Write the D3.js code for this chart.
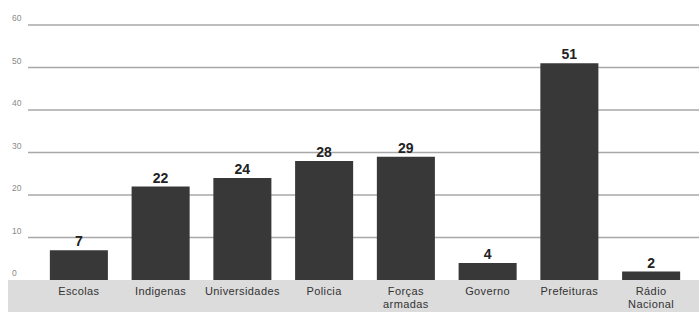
<!DOCTYPE html>
<html><head><meta charset="utf-8">
<script src="https://cdn.jsdelivr.net/npm/d3@7"></script>
<style>body{margin:0;background:#fff}svg{display:block}</style>
</head><body>
<script>
const categories = ["Escolas", "Indígenas", "Universidades", "Polícia", "Forças armadas", "Governo", "Prefeituras", "Rádio Nacional"];
const labelLines = [["Escolas"], ["Indigenas"], ["Universidades"], ["Policia"], ["Forças", "armadas"], ["Governo"], ["Prefeituras"], ["Rádio", "Nacional"]];
const values = [7, 22, 24, 28, 29, 4, 51, 2];
const yTicks = [0, 10, 20, 30, 40, 50, 60];

const W = 699, H = 312;
const svg = d3.select("body").append("svg").attr("width", W).attr("height", H);

const y = d3.scaleLinear().domain([0, 60]).range([280, 25]);
const x = d3.scaleBand().domain(categories).range([38, 692]).paddingInner(0.29).paddingOuter(0.145);

// grey band
svg.append("rect").attr("x", 8).attr("y", y(0)).attr("width", W - 8).attr("height", H - y(0)).attr("fill", "#dcdcdc");

// gridlines
svg.append("g").selectAll("line").data(yTicks.filter(d => d > 0)).join("line")
  .attr("x1", 28).attr("x2", W).attr("y1", d => y(d)).attr("y2", d => y(d))
  .attr("stroke", "#a8a8a8").attr("stroke-width", 1.3);

// y tick labels
svg.append("g").selectAll("text").data(yTicks).join("text")
  .attr("x", 12).attr("y", d => y(d) - 4)
  .attr("font-family", "Liberation Sans, Arial, sans-serif").attr("font-size", 8.5)
  .attr("fill", "#8a8a8a").text(d => d);

// bars
svg.append("g").selectAll("rect").data(values).join("rect")
  .attr("x", (d, i) => x(categories[i])).attr("width", x.bandwidth())
  .attr("y", d => y(d)).attr("height", d => y(0) - y(d))
  .attr("fill", "#383838");

// value labels
svg.append("g").selectAll("text").data(values).join("text")
  .attr("x", (d, i) => x(categories[i]) + x.bandwidth() / 2)
  .attr("y", d => y(d) - 4)
  .attr("text-anchor", "middle")
  .attr("font-family", "Liberation Sans, Arial, sans-serif").attr("font-size", 14).attr("font-weight", "bold")
  .attr("fill", "#222").text(d => d);

// category labels
const cl = svg.append("g").selectAll("text").data(categories).join("text")
  .attr("x", d => x(d) + x.bandwidth() / 2)
  .attr("y", 294.5)
  .attr("text-anchor", "middle")
  .attr("font-family", "Liberation Sans, Arial, sans-serif").attr("font-size", 11)
  .attr("letter-spacing", 0.4)
  .attr("fill", "#333");
cl.each(function(d, i) {
  const t = d3.select(this);
  labelLines[i].forEach((line, j) => {
    t.append("tspan").attr("x", x(d) + x.bandwidth() / 2).attr("dy", j === 0 ? 0 : 13).text(line);
  });
});
</script>
</body></html>
